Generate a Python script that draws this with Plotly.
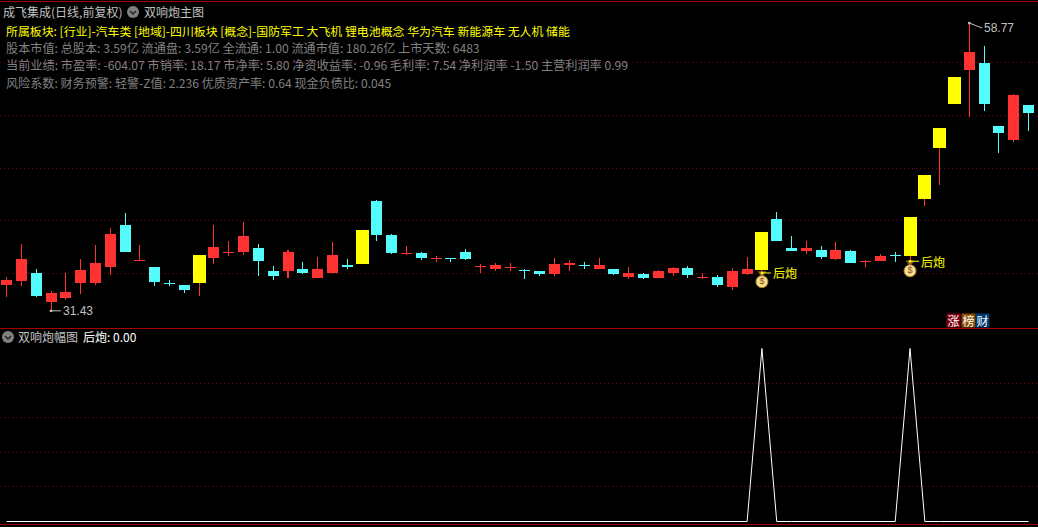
import plotly.graph_objects as go
from plotly.subplots import make_subplots

W, H = 1038, 527

# daily candles: r = up, c = down, y = up with signal colour
kinds = ["r","r","c","r","r","r","r","r","c","r","c","c","c","y","r","r","r","c","c","r",
         "c","r","r","c","y","c","c","r","c","r","c","c","r","r","r","c","c","r","r","c",
         "r","c","r","c","r","r","c","r","c","r","r","y","c","c","r","c","r","c","r","r",
         "c","y","y","y","y","r","c","c","r","c"]
opens = [33.88,34.27,35.03,32.27,32.65,34.08,34.08,35.60,39.59,36.23,35.60,34.05,33.89,34.08,36.45,37.00,37.02,37.40,35.22,35.22,
         35.40,34.55,35.03,35.79,35.88,41.87,38.63,36.90,36.93,36.42,36.42,37.02,35.66,35.40,35.57,35.24,35.22,34.93,35.79,35.76,
         35.40,35.40,34.65,34.93,34.55,35.03,35.50,34.62,34.65,33.70,34.93,35.31,40.16,37.40,37.12,37.21,36.36,37.12,36.10,36.16,
         36.64,36.64,42.05,46.90,51.08,54.31,54.97,48.99,47.66,50.99]
highs = [34.62,37.78,35.40,33.32,35.00,36.36,37.69,39.30,40.73,37.69,35.60,34.36,33.89,34.08,39.59,38.07,39.87,37.78,35.69,37.21,
         36.07,36.55,37.97,36.36,39.11,41.96,38.73,37.59,37.02,36.64,36.45,37.30,35.88,35.98,35.98,35.40,35.22,36.45,36.26,36.07,
         36.45,35.40,35.60,35.03,35.31,35.60,35.69,35.03,34.84,35.50,36.55,38.92,40.82,38.54,38.07,37.59,37.97,37.21,36.26,36.83,
         37.02,40.35,44.33,48.80,53.65,58.77,56.59,48.99,52.03,50.99]
lows = [32.77,33.79,32.75,31.43,32.46,33.03,33.89,34.84,37.02,36.16,33.79,33.79,33.13,32.84,35.88,36.64,36.74,34.74,34.36,34.55,
        34.93,34.55,35.03,35.40,35.88,38.07,36.83,36.74,36.26,36.07,36.07,36.26,35.03,35.22,35.22,34.45,34.74,34.74,35.22,35.40,
        35.40,34.84,34.45,34.45,34.55,34.74,34.55,34.45,33.70,33.41,34.84,34.74,38.07,37.12,36.83,36.36,36.26,35.98,35.60,36.16,
        36.07,35.69,41.39,43.39,51.08,49.85,50.41,46.43,47.47,48.52]
closes = [34.36,36.33,32.84,33.13,33.22,35.31,35.98,38.73,37.02,36.23,34.17,34.05,33.41,36.74,37.50,37.00,38.54,36.16,34.74,37.02,
          35.03,35.40,36.74,35.60,39.11,38.63,36.93,36.90,36.45,36.42,36.42,36.36,35.66,35.79,35.57,35.24,34.93,35.88,35.98,35.76,
          35.79,34.93,35.03,34.55,35.22,35.50,34.84,34.62,33.89,35.22,35.40,38.92,38.07,37.12,37.40,36.55,37.21,35.98,36.10,36.64,
          36.64,40.35,44.33,48.80,53.65,56.02,51.08,48.33,51.94,50.23]

# lower panel signal: 1 on the two signal days, 0 otherwise
signal = [0]*70
signal[51] = 1
signal[61] = 1

price_grid = [35, 40, 45, 50, 55]
signal_grid = [0.2, 0.4, 0.6, 0.8]

RED, CYAN, YEL = "#FF3232", "#54FCFC", "#FFFF00"
GRID = "#7A0000"
FRAME = "#A80000"
GRAY = "#808080"
LIGHT = "#C0C0C0"
CJK = "Noto Sans CJK SC, Noto Sans, sans-serif"
NUM = "Liberation Sans, sans-serif"
colour = {"r": RED, "c": CYAN, "y": YEL}

idx = list(range(len(opens)))
tops = [max(o, c) for o, c in zip(opens, closes)]
bots = [min(o, c) for o, c in zip(opens, closes)]

fig = make_subplots(rows=2, cols=1, shared_xaxes=False)

# wicks (thin bars keep crisp 1px columns)
fig.add_trace(go.Bar(x=idx, base=lows, y=[h - l for h, l in zip(highs, lows)],
                     width=0.001,
                     marker=dict(color=[CYAN if k == "c" else RED for k in kinds], line=dict(width=0)),
                     hoverinfo="skip", showlegend=False), row=1, col=1)
# bodies
fig.add_trace(go.Bar(x=idx, base=bots, y=[max(t - b, 0.001) for t, b in zip(tops, bots)],
                     width=[0.878 if k == "y" else 0.743 for k in kinds],
                     marker=dict(color=[colour[k] for k in kinds], line=dict(width=0)),
                     hoverinfo="skip", showlegend=False), row=1, col=1)

# money bags on the signal days
bag_x = [51, 61]
bag_y = [34.20, 35.23]
neck_y = [35.0, 36.03]
fig.add_trace(go.Scatter(x=bag_x, y=neck_y, mode="markers",
                         marker=dict(symbol="triangle-down", size=8, color="#8A5A20", line=dict(width=0)),
                         hoverinfo="skip", showlegend=False), row=1, col=1)
fig.add_trace(go.Scatter(x=bag_x, y=bag_y, mode="markers+text", text=["$", "$"],
                         textposition="middle center",
                         textfont=dict(size=9, color="#8A4A20", family=NUM),
                         marker=dict(symbol="circle", size=12, color="#F6E08E",
                                     line=dict(width=1, color="#A8802A")),
                         hoverinfo="skip", showlegend=False), row=1, col=1)

# lower panel
fig.add_trace(go.Scatter(x=idx, y=signal, mode="lines", line=dict(color="#FFFFFF", width=1),
                         hoverinfo="skip", showlegend=False), row=2, col=1)


def T(x, y, text, color, size=12, family=CJK):
    return dict(xref="paper", yref="paper", x=x / W, y=1 - y / H, text=text, showarrow=False,
                xanchor="left", yanchor="middle", align="left",
                font=dict(family=family, size=size, color=color), borderpad=0, borderwidth=0)


def A(i, p, ax, ay, text, color, family=NUM, size=12):
    return dict(xref="x", yref="y", x=i, y=p, ax=ax, ay=ay, axref="pixel", ayref="pixel", text=text,
                showarrow=True, arrowhead=7, arrowsize=0.6, arrowwidth=1, arrowcolor=color,
                xanchor="left", yanchor="middle", standoff=0,
                font=dict(family=family, size=size, color=color))


def BOX(x, text, bg):
    return dict(xref="paper", yref="paper", x=(x + 6.5) / W, y=1 - 320.5 / H, text=text, showarrow=False,
                xanchor="center", yanchor="middle", width=13, height=13, bgcolor=bg, borderpad=0,
                font=dict(family=CJK, size=12, color="#FFFFFF"))


annots = [
    T(3, 11.5, "成飞集成(日线,前复权)", LIGHT, 12),
    T(144, 11.5, "双响炮主图", LIGHT, 12),
    T(6, 30.5, "所属板块: [行业]-汽车类 [地域]-四川板块 [概念]-国防军工 大飞机 锂电池概念 华为汽车 新能源车 无人机 储能", YEL, 11.92),
    T(6, 47, "股本市值: 总股本: 3.59亿 流通盘: 3.59亿 全流通: 1.00 流通市值: 180.26亿 上市天数: 6483", GRAY, 12.15),
    T(6, 65, "当前业绩: 市盈率: -604.07 市销率: 18.17 市净率: 5.80 净资收益率: -0.96 毛利率: 7.54 净利润率 -1.50 主营利润率 0.99", GRAY, 12.18),
    T(6, 82.5, "风险系数: 财务预警: 轻警-Z值: 2.236 优质资产率: 0.64 现金负债比: 0.045", GRAY, 12.1),
    T(18, 336.5, "双响炮幅图", LIGHT, 12),
    T(83, 336.5, "后炮: 0.00", "#FFFFFF", 12),
    A(3, 31.43, 10, 0, "31.43", LIGHT),
    A(65, 58.77, 13, 5, "58.77", LIGHT),
    A(51, 35.03, 9, 0, "后炮", YEL, CJK, 12),
    A(61, 36.14, 9, 0, "后炮", YEL, CJK, 12),
    BOX(947, "涨", "#7E0010"),
    BOX(962, "榜", "#8A4A00"),
    BOX(976, "财", "#003A70"),
]

shapes = []
for yy in (1.5, 328.5, 524.5):
    shapes.append(dict(type="line", xref="paper", yref="paper", x0=0, x1=1, y0=1 - yy / H, y1=1 - yy / H,
                       line=dict(color=FRAME, width=1)))
for cx, cy in ((133, 12), (8, 337)):
    shapes.append(dict(type="circle", xref="paper", yref="paper",
                       x0=(cx - 6) / W, x1=(cx + 6) / W, y0=1 - (cy + 6) / H, y1=1 - (cy - 6) / H,
                       fillcolor="#808080", line=dict(width=0)))
    shapes.append(dict(type="path", xref="paper", yref="paper",
                       path=f"M {(cx-3)/W} {1-(cy-1)/H} L {cx/W} {1-(cy+2)/H} L {(cx+3)/W} {1-(cy-1)/H}",
                       line=dict(color="#202020", width=1.5)))

fig.update_layout(
    width=W, height=H, autosize=False, margin=dict(l=0, r=0, t=0, b=0),
    paper_bgcolor="#000000", plot_bgcolor="#000000", barmode="overlay", bargap=0,
    showlegend=False, annotations=annots, shapes=shapes,
    xaxis=dict(domain=[0, 1], range=[-0.4456, 69.64], visible=False, showgrid=False, zeroline=False),
    yaxis=dict(domain=[1 - 328 / H, 1], range=[29.80, 60.96], tickvals=price_grid, showticklabels=False,
               showgrid=True, gridcolor=GRID, griddash="1px,3px", gridwidth=1, zeroline=False, ticks="", showline=False),
    xaxis2=dict(domain=[0, 1], range=[-0.4456, 69.64], visible=False, showgrid=False, zeroline=False, anchor="y2"),
    yaxis2=dict(domain=[1 - 525 / H, 1 - 329 / H], range=[-0.0202, 1.1127], tickvals=signal_grid, showticklabels=False,
                showgrid=True, gridcolor=GRID, griddash="1px,3px", gridwidth=1, zeroline=False, ticks="", showline=False,
                anchor="x2"),
)

fig.write_html("out.html", config=dict(displayModeBar=False),
               post_script="document.body.style.margin='0';document.documentElement.style.overflow='hidden';document.body.style.background='#000';")
